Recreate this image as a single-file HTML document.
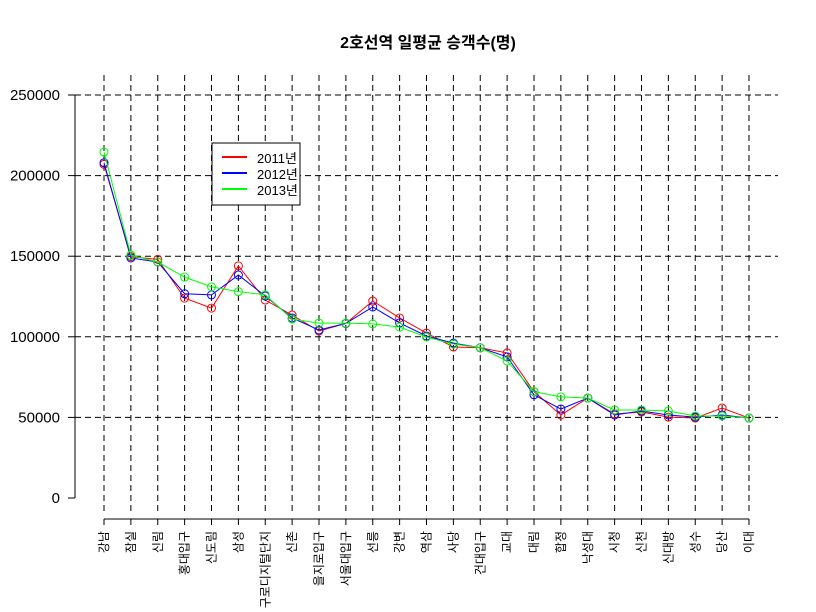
<!DOCTYPE html>
<html><head><meta charset="utf-8"><style>
html,body{margin:0;padding:0;background:#fff;}
svg{display:block;font-family:"Liberation Sans","Noto Sans CJK KR",sans-serif;}
</style></head><body>
<svg id="chart" width="816" height="612" viewBox="0 0 816 612" xmlns="http://www.w3.org/2000/svg">
<text x="428" y="48" text-anchor="middle" font-size="16" font-weight="bold">2호선역 일평균 승객수(명)</text>
<g id="grid"></g><g id="axes"></g><g id="series"></g>
<g>
<rect x="212" y="143" width="88" height="62" fill="#fff" stroke="#000"/>
<line x1="222" y1="157" x2="247" y2="157" stroke="#f00" stroke-width="2"/>
<line x1="222" y1="173" x2="247" y2="173" stroke="#00f" stroke-width="2"/>
<line x1="222" y1="189" x2="247" y2="189" stroke="#0f0" stroke-width="2"/>
<text x="257" y="163" font-size="13">2011년</text>
<text x="257" y="179" font-size="13">2012년</text>
<text x="257" y="195" font-size="13">2013년</text>
</g>
</svg>
<script>
const categories=["강남","잠실","신림","홍대입구","신도림","삼성","구로디지털단지","신촌","을지로입구","서울대입구","선릉","강변","역삼","사당","건대입구","교대","대림","합정","낙성대","시청","신천","신대방","성수","당산","이대"];
const s2011=[207000,149700,148000,124000,117800,144000,122800,113500,103600,108300,122200,111700,102300,93700,93200,90000,66000,51500,62000,52100,53400,50200,49600,55800,49600];
const s2012=[208000,148900,146400,126700,126000,138300,125300,111700,104200,108300,118500,108600,100500,96100,93200,87500,64000,55200,62000,51500,54000,51500,50200,51500,49600];
const s2013=[214600,150700,146400,137000,131000,128000,126000,111000,108500,108500,108000,106000,99900,95500,93200,85000,66000,62700,62000,54600,54600,54000,50900,50900,49600];
const yTicks=[0,50000,100000,150000,200000,250000];
const NS="http://www.w3.org/2000/svg";
function xs(i){return 104+i*(749-104)/(categories.length-1);}
function ys(v){return 498-v*(498-95)/250000;}
function mk(tag,attrs,parent){const e=document.createElementNS(NS,tag);for(const k in attrs)e.setAttribute(k,attrs[k]);document.getElementById(parent).appendChild(e);return e;}
// grid
categories.forEach((c,i)=>{const l=mk('line',{x1:xs(i),x2:xs(i),y1:75,y2:515,stroke:'#000','stroke-dasharray':'6,4'},'grid');

});
yTicks.forEach(v=>{if(v===0)return;const l=mk('line',{x1:75,x2:778,y1:ys(v),y2:ys(v),stroke:'#000','stroke-dasharray':'6,4'},'grid');

});
// y axis
const ya=mk('line',{x1:75,x2:75,y1:ys(0),y2:ys(250000),stroke:'#000'},'axes');


yTicks.forEach(v=>{mk('line',{x1:68,x2:75,y1:ys(v),y2:ys(v),stroke:'#000'},'axes');
const t=mk('text',{x:60,y:ys(v)+5,'text-anchor':'end','font-size':'15'},'axes');t.textContent=v;

});
// x axis
const xa=mk('line',{x1:xs(0),x2:xs(categories.length-1),y1:519,y2:519,stroke:'#000'},'axes');


categories.forEach((c,i)=>{mk('line',{x1:xs(i),x2:xs(i),y1:519,y2:525,stroke:'#000'},'axes');
const t=mk('text',{x:0,y:0,'text-anchor':'end','font-size':'12',transform:`translate(${xs(i)+4},531) rotate(-90)`},'axes');t.textContent=c;

});
// series
[[s2011,'#f00','2011'],[s2012,'#00f','2012'],[s2013,'#0f0','2013']].forEach(([d,col,n])=>{
const p=mk('polyline',{points:d.map((v,i)=>xs(i)+','+ys(v)).join(' '),fill:'none',stroke:col,'stroke-width':1},'series');


d.forEach((v,i)=>{const c=mk('circle',{cx:xs(i),cy:ys(v),r:4,fill:'none',stroke:col},'series');

});});
</script>
</body></html>
